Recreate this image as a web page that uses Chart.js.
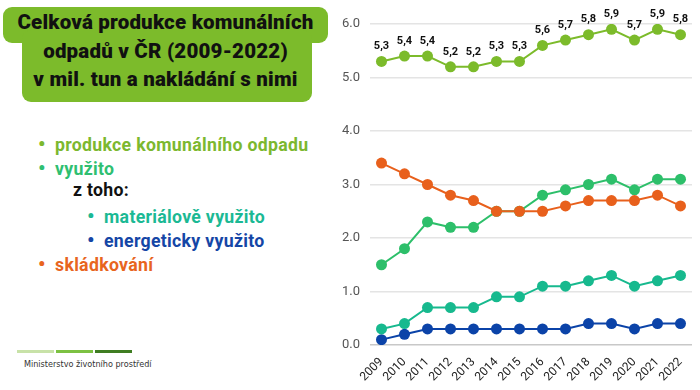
<!DOCTYPE html>
<html>
<head>
<meta charset="utf-8">
<script src="https://cdn.jsdelivr.net/npm/chart.js@4"></script>
<style>
  body { margin: 0; background: #fff; font-family: Roboto, sans-serif; }
  #page { position: relative; width: 700px; height: 390px; overflow: hidden; }
  .box { position: absolute; background: #7cbb2b; }
  #title { position: absolute; left: 3px; top: 8px; width: 325px; text-align: center;
           font-weight: 900; font-size: 20.5px; line-height: 28.5px; color: #111; letter-spacing: 0.2px; }
  .leg { position: absolute; font-weight: 700; font-size: 17.7px; white-space: nowrap; letter-spacing: 0.3px; }
  .leg.b::before { content: "\2022"; display: inline-block; width: 17px; font-size: 21px; }
  #wrap { position: absolute; left: 320px; top: 0; width: 380px; height: 390px; }
  .bar { position: absolute; top: 350px; height: 3px; }
  #mzp { position: absolute; left: 24px; top: 359px; font-size: 9px; color: #333;
         font-family: "Liberation Sans Narrow", "DejaVu Sans Condensed", sans-serif; }
</style>
</head>
<body>
<div id="page">
  <div class="box" style="left:3px; top:7px; width:325px; height:36px; border-radius:9px;"></div>
  <div class="box" style="left:22px; top:30px; width:290px; height:72px; border-radius:9px;"></div>
  <div id="title">Celková produkce komunálních<br>odpadů v ČR (2009-2022)<br>v mil. tun a nakládání s nimi</div>

  <div class="leg b" style="left:38px; top:132px; color:#7cb82f;">produkce komunálního odpadu</div>
  <div class="leg b" style="left:38px; top:156px; color:#2fbf71;">využito</div>
  <div class="leg" style="left:73px; top:180px; color:#111;">z toho:</div>
  <div class="leg b" style="left:87px; top:204px; color:#1bb994;">materiálově využito</div>
  <div class="leg b" style="left:87px; top:228px; color:#1546a6;">energeticky využito</div>
  <div class="leg b" style="left:38px; top:252px; color:#e8651e;">skládkování</div>

  <div class="bar" style="left:17px; width:37px; background:#c8e2a8;"></div>
  <div class="bar" style="left:56px; width:37px; background:#7cc142;"></div>
  <div class="bar" style="left:95px; width:37px; background:#3f7d22;"></div>
  <div id="mzp">Ministerstvo životního prostředí</div>

  <div id="wrap"><canvas id="graf"></canvas></div>
</div>
<script>
const roky = ["2009", "2010", "2011", "2012", "2013", "2014", "2015", "2016", "2017", "2018", "2019", "2020", "2021", "2022"];
const produkce = [5.3, 5.4, 5.4, 5.2, 5.2, 5.3, 5.3, 5.6, 5.7, 5.8, 5.9, 5.7, 5.9, 5.8];
const vyuzito = [1.5, 1.8, 2.3, 2.2, 2.2, 2.5, 2.5, 2.8, 2.9, 3.0, 3.1, 2.9, 3.1, 3.1];
const materialove = [0.3, 0.4, 0.7, 0.7, 0.7, 0.9, 0.9, 1.1, 1.1, 1.2, 1.3, 1.1, 1.2, 1.3];
const energeticky = [0.1, 0.2, 0.3, 0.3, 0.3, 0.3, 0.3, 0.3, 0.3, 0.4, 0.4, 0.3, 0.4, 0.4];
const skladkovani = [3.4, 3.2, 3.0, 2.8, 2.7, 2.5, 2.5, 2.5, 2.6, 2.7, 2.7, 2.7, 2.8, 2.6];
const osaY = [0, 1, 2, 3, 4, 5, 6];

function rada(nazev, data, barva) {
  return {
    label: nazev,
    data: data,
    borderColor: barva,
    backgroundColor: barva,
    pointBackgroundColor: barva,
    pointBorderWidth: 0,
    pointRadius: 5.5,
    borderWidth: 2,
    tension: 0,
  };
}

/* popisky hodnot nad produkci */
const popisky = {
  id: "popisky",
  afterDatasetsDraw(chart) {
    const c = chart.ctx;
    const meta = chart.getDatasetMeta(0);
    c.save();
    c.font = "bold 11px Roboto";
    c.fillStyle = "#111";
    c.textAlign = "center";
    c.textBaseline = "middle";
    meta.data.forEach((bod, i) => {
      c.fillText(produkce[i].toFixed(1).replace(".", ","), bod.x, bod.y - 15);
    });
    c.restore();
  },
};

const ctx = document.getElementById("graf").getContext("2d");
const graf = new Chart(ctx, {
  type: "line",
  data: {
    labels: roky,
    datasets: [
      rada("produkce komunálního odpadu", produkce, "#7cbb2b"),
      rada("skládkování", skladkovani, "#e8601c"),
      rada("využito", vyuzito, "#2dbf6a"),
      rada("materiálově využito", materialove, "#17b98e"),
      rada("energeticky využito", energeticky, "#0b43a8"),
    ],
  },
  options: {
    responsive: true,
    maintainAspectRatio: false,
    animation: false,
    layout: { padding: { top: 24, right: 8, left: 0, bottom: 0 } },
    plugins: {
      legend: { display: false },
      tooltip: { enabled: false },
    },
    scales: {
      x: {
        offset: true,
        grid: { display: false },
        border: { display: false },
        ticks: {
          autoSkip: false,
          minRotation: 45,
          maxRotation: 45,
          padding: 2,
          color: "#222",
          font: { family: "Roboto", size: 12 },
        },
        afterFit(scale) { scale.height = 45; },
      },
      y: {
        min: 0,
        max: 6,
        afterBuildTicks(scale) { scale.ticks = osaY.map(v => ({ value: v })); },
        grid: {
          drawTicks: false,
          lineWidth: 1.5,
          color: (c) => (c.tick && c.tick.value === 0 ? "#c8c8c8" : "#e4e4e4"),
        },
        border: { display: false },
        ticks: {
          padding: 10,
          color: "#555",
          font: { family: "Roboto", size: 13 },
          callback: (v) => Number(v).toFixed(1),
        },
        afterFit(scale) { scale.width = 50; },
      },
    },
  },
  plugins: [popisky],
});
</script>
</body>
</html>
